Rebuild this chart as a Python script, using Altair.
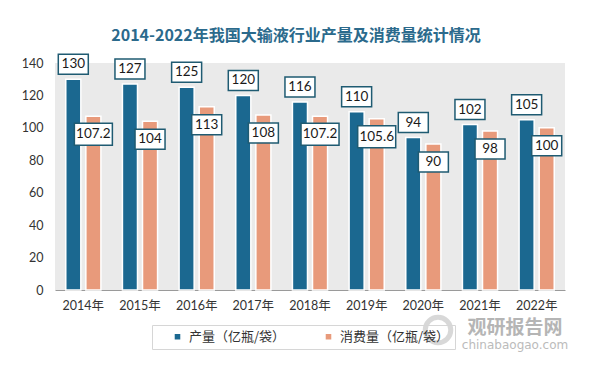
import altair as alt
import pandas as pd

years = ["2014年", "2015年", "2016年", "2017年", "2018年", "2019年", "2020年", "2021年", "2022年"]
production = [130, 127, 125, 120, 116, 110, 94, 102, 105]
consumption = [107.2, 104, 113, 108, 107.2, 105.6, 90, 98, 100]
series = ["产量（亿瓶/袋）", "消费量（亿瓶/袋）"]
colors = ["#1b6890", "#e89a7b"]

rows = []
for y, p, c in zip(years, production, consumption):
    for s, v in zip(series, [p, c]):
        lab = f"{v:g}"
        rows.append({"year": y, "series": s, "value": v, "label": lab,
                     "w": "l" if len(lab) > 3 else "s"})
df = pd.DataFrame(rows)

FONT = "Lato, 'Noto Sans CJK SC', sans-serif"
CJK = "'Noto Sans CJK SC', sans-serif"

x_enc = alt.X("year:N", sort=years, title=None,
              scale=alt.Scale(paddingInner=0.38, paddingOuter=0.19),
              axis=alt.Axis(labelAngle=0, ticks=False, domainColor="#9a9a9a",
                            labelPadding=9, labelFontSize=12.5, labelColor="#333333",
                            labelFont=FONT))
xo_enc = alt.XOffset("series:N", sort=series,
                     scale=alt.Scale(domain=series, paddingInner=0.25, paddingOuter=0))
y_enc = alt.Y("value:Q", title=None,
              scale=alt.Scale(domain=[0, 140], nice=False),
              axis=alt.Axis(values=list(range(0, 141, 20)), grid=False, ticks=False,
                            domain=False, labelPadding=12, labelFontSize=12.5,
                            labelColor="#333333", labelFont=FONT))

base = alt.Chart(df)

bars = base.mark_bar(stroke="white", strokeWidth=1.5).encode(
    x=x_enc, xOffset=xo_enc, y=y_enc,
    color=alt.Color("series:N", sort=series,
                    scale=alt.Scale(domain=series, range=colors),
                    legend=alt.Legend(title=None, orient="none", legendX=97, legendY=262,
                                      direction="horizontal", symbolType="square",
                                      symbolSize=50, labelFontSize=13, labelFont=CJK,
                                      labelColor="#333333", strokeColor="#d6d6d6",
                                      padding=5, columnPadding=22, symbolOffset=14,
                                      labelOffset=5)),
)

box_shapes = ["M-1.5,-1L1.5,-1L1.5,1L-1.5,1Z", "M-1.9,-1.1L1.9,-1.1L1.9,1.1L-1.9,1.1Z"]

def label_layers(sname, dy):
    sub = base.transform_filter(alt.datum.series == sname)
    boxes = sub.mark_point(filled=True, fill="white", stroke="#1f5b72", strokeWidth=1.5,
                           opacity=1, yOffset=dy).encode(
        x=x_enc, xOffset=xo_enc, y=y_enc,
        shape=alt.Shape("w:N", scale=alt.Scale(domain=["s", "l"], range=box_shapes),
                        legend=None),
        size=alt.value(400),
    )
    texts = sub.mark_text(fontSize=13.5, font=FONT, color="#1a1a1a", dy=dy).encode(
        x=x_enc, xOffset=xo_enc, y=y_enc, text="label:N",
    )
    return boxes + texts

wm = alt.Chart(pd.DataFrame({"a": [1]}))
wm0 = wm.mark_point(shape="circle", filled=False, stroke="#cfcfcf", strokeWidth=5,
                    opacity=0.8).encode(x=alt.value(383), y=alt.value(267), size=alt.value(650))
wm1 = wm.mark_text(text="观研报告网", font=CJK, fontSize=19, fontWeight="bold",
                   color="#a9a9a9", opacity=0.85).encode(x=alt.value(460), y=alt.value(265))
wm2 = wm.mark_text(text="chinabaogao.com", font="DejaVu Sans", fontSize=12,
                   color="#b0b0b0", opacity=0.85).encode(x=alt.value(460), y=alt.value(282))

chart = alt.layer(
    bars, label_layers(series[0], -15), label_layers(series[1], 18), wm0, wm1, wm2
).properties(
    width=510, height=227,
    title=alt.Title("2014-2022年我国大输液行业产量及消费量统计情况", font=CJK, fontSize=16,
                    fontWeight="bold", color="#2b6a8c", anchor="middle", dx=-14, offset=7),
    autosize=alt.AutoSizeParams(type="none"),
    padding={"left": 47, "top": 55, "right": 22, "bottom": 72},
    background="white",
).configure_view(fill="#eaeaea", stroke=None)

chart.save("out.html", embed_options={"renderer": "svg", "actions": False})
